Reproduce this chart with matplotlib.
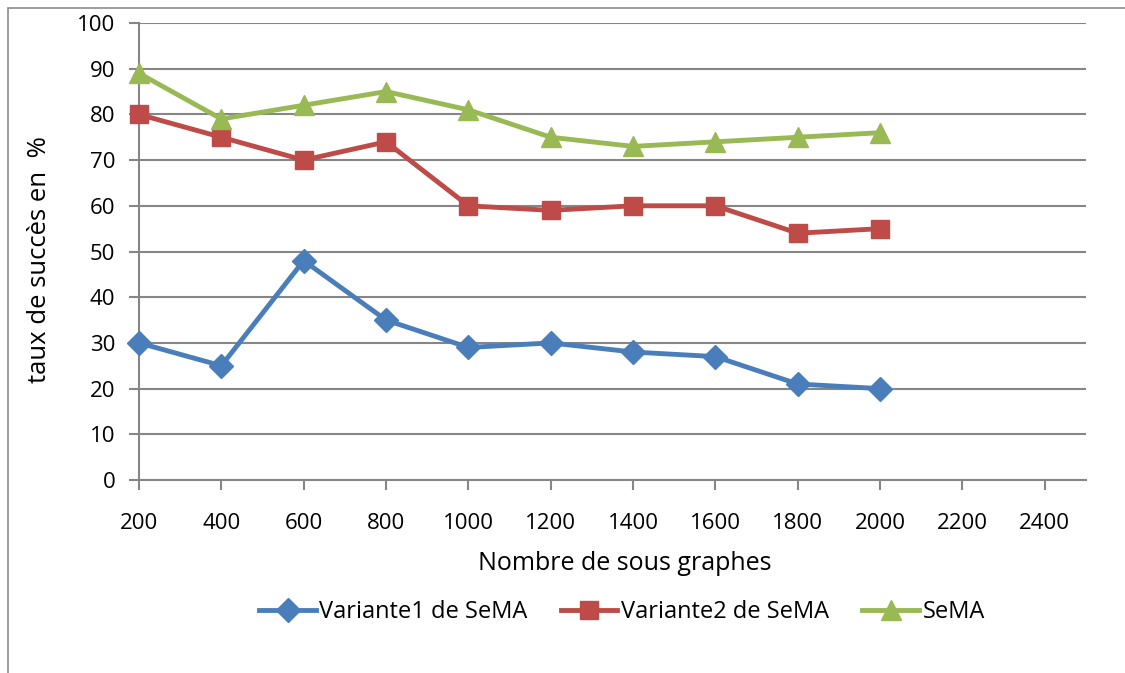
import matplotlib.pyplot as plt
from matplotlib.patches import Rectangle

# data
sizes = [200, 400, 600, 800, 1000, 1200, 1400, 1600, 1800, 2000]
variante1 = [30, 25, 48, 35, 29, 30, 28, 27, 21, 20]
variante2 = [80, 75, 70, 74, 60, 59, 60, 60, 54, 55]
sema = [89, 79, 82, 85, 81, 75, 73, 74, 75, 76]
xticks = list(range(200, 2600, 200))

plt.rcParams['font.family'] = ['Open Sans', 'DejaVu Sans']
grey = '#868686'

fig = plt.figure(figsize=(11.25, 6.73), dpi=100)
fig.patches.append(Rectangle((8/1125, -0.1), 1.2, 1 - 8/673 + 0.1, transform=fig.transFigure,
                             fill=False, edgecolor='#8c8c8c', linewidth=1.2))
ax = fig.add_axes([139/1125, 1 - 480/673, (1086 - 139)/1125, (480 - 23)/673])

series = [
    ('Variante1 de SeMA', variante1, '#4A7EBB', 'D', 12),
    ('Variante2 de SeMA', variante2, '#BE4B48', 's', 13),
    ('SeMA', sema, '#98B954', '^', 14),
]
for name, vals, col, mk, ms in series:
    ax.plot(sizes, vals, color=col, lw=3.5, marker=mk, ms=ms, label=name,
            solid_joinstyle='round', clip_on=False, zorder=3)

ax.set_xlim(200, 2500)
ax.set_ylim(0, 100)
ax.set_xticks(xticks)
ax.set_yticks(range(0, 101, 10))
ax.yaxis.grid(True, color=grey, lw=1.5)
ax.set_axisbelow(True)
for s in ('top', 'right'):
    ax.spines[s].set_visible(False)
for s in ('left', 'bottom'):
    ax.spines[s].set_color(grey)
    ax.spines[s].set_linewidth(1.5)
ax.tick_params(colors=grey, width=1.5, length=7, labelcolor='black', labelsize=16)
ax.tick_params(axis='x', pad=17)
ax.tick_params(axis='y', pad=10)

fig.text(40/1125, 1 - 260/673, 'taux de succès en  %', rotation=90, ha='center', va='center', fontsize=18.5)
fig.text(625/1125, 1 - 563/673, 'Nombre de sous graphes', ha='center', va='center', fontsize=18)
fig.legend(loc='center', bbox_to_anchor=(622/1125, 1 - 612/673), ncol=3, frameon=False,
           fontsize=17, handlelength=2.4, handletextpad=0.15, columnspacing=1.4)

fig.savefig('out.png', dpi=100)
